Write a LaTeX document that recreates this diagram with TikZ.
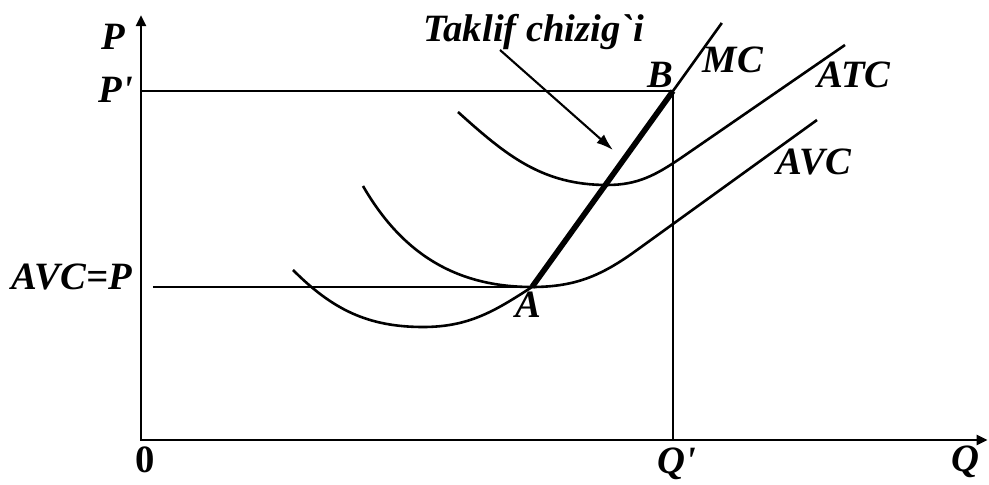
\documentclass[tikz,border=0pt]{standalone}
\usepackage{fontspec}
\setmainfont{Liberation Serif}
\usetikzlibrary{arrows.meta}

\begin{document}
\begin{tikzpicture}[
  lbl/.style={font=\fontsize{27.5}{32}\selectfont\bfseries\itshape, anchor=base, inner sep=0pt},
  axis/.style={line width=2pt, {Triangle[length=8pt,width=7pt]}-{Triangle[length=8pt,width=7pt]}},
  guide/.style={line width=1.3pt},
  curve/.style={line width=1.85pt},
  supply/.style={line width=4pt},
  pointer/.style={line width=1.5pt, -{Latex[length=12pt,width=8pt]}}
]
\useasboundingbox (-3.525,-1.125) rectangle (21.2,11.0);

% Points
\coordinate (O) at (0,0);
\coordinate (ytop) at (0,10.625);
\coordinate (xend) at (21.17,0);
\coordinate (A) at (9.775,3.825);
\coordinate (B) at (13.3,8.725);
\coordinate (Pp) at (0,8.725);
\coordinate (Qp) at (13.3,0);
\coordinate (Pa) at (0.3,3.825);
\coordinate (MCtop) at (14.52,10.425);
\coordinate (Ttail) at (8.975,9.75);
\coordinate (Thead) at (11.8,7.25);

% Draw axes
\draw[axis] (ytop) -- (O) -- (xend);

% Guide lines
\draw[guide] (Pp) -- (B);
\draw[guide] (B) -- (Qp);
\draw[guide] (Pa) -- (A);

% Draw curves
\draw[curve] (3.8,4.25) to[out=-45,in=180] (7.05,2.825) to[out=0,in=-147] (A);
\draw[supply] (A) -- (B);
\draw[curve] (B) -- (MCtop);
\draw[curve] (5.55,6.35) to[out=-60,in=180] (A) to[out=0,in=-144] (12.4,4.75) -- (16.9,8.0);
\draw[curve] (7.925,8.2) to[out=-42,in=180] (11.65,6.375) to[out=0,in=-146] (13.5,7.05) -- (17.6,9.875);

% Supply pointer
\draw[pointer] (Ttail) -- (Thead);

% Labels
\node[lbl] (Plbl) at (-0.7,9.75) {P};
\node[lbl] (Pplbl) at (-0.625,8.425) {P\textquotesingle};
\node[lbl] (AVCPlbl) at (-1.725,3.75) {AVC=P};
\node[lbl] (Olbl) at (0.1,-0.825) {\upshape 0};
\node[lbl] (Qplbl) at (13.4,-0.84) {Q\textquotesingle};
\node[lbl] (Qlbl) at (20.6,-0.8) {Q};
\node[lbl] (Albl) at (9.675,3.05) {A};
\node[lbl] (Blbl) at (12.975,8.8) {B};
\node[lbl] (MClbl) at (14.8,9.175) {MC};
\node[lbl] (ATClbl) at (17.825,8.8) {ATC};
\node[lbl] (AVClbl) at (16.825,6.625) {AVC};
\node[lbl] (Tlbl) at (9.825,9.96) {Taklif chizig\textasciigrave i};
\end{tikzpicture}
\end{document}
